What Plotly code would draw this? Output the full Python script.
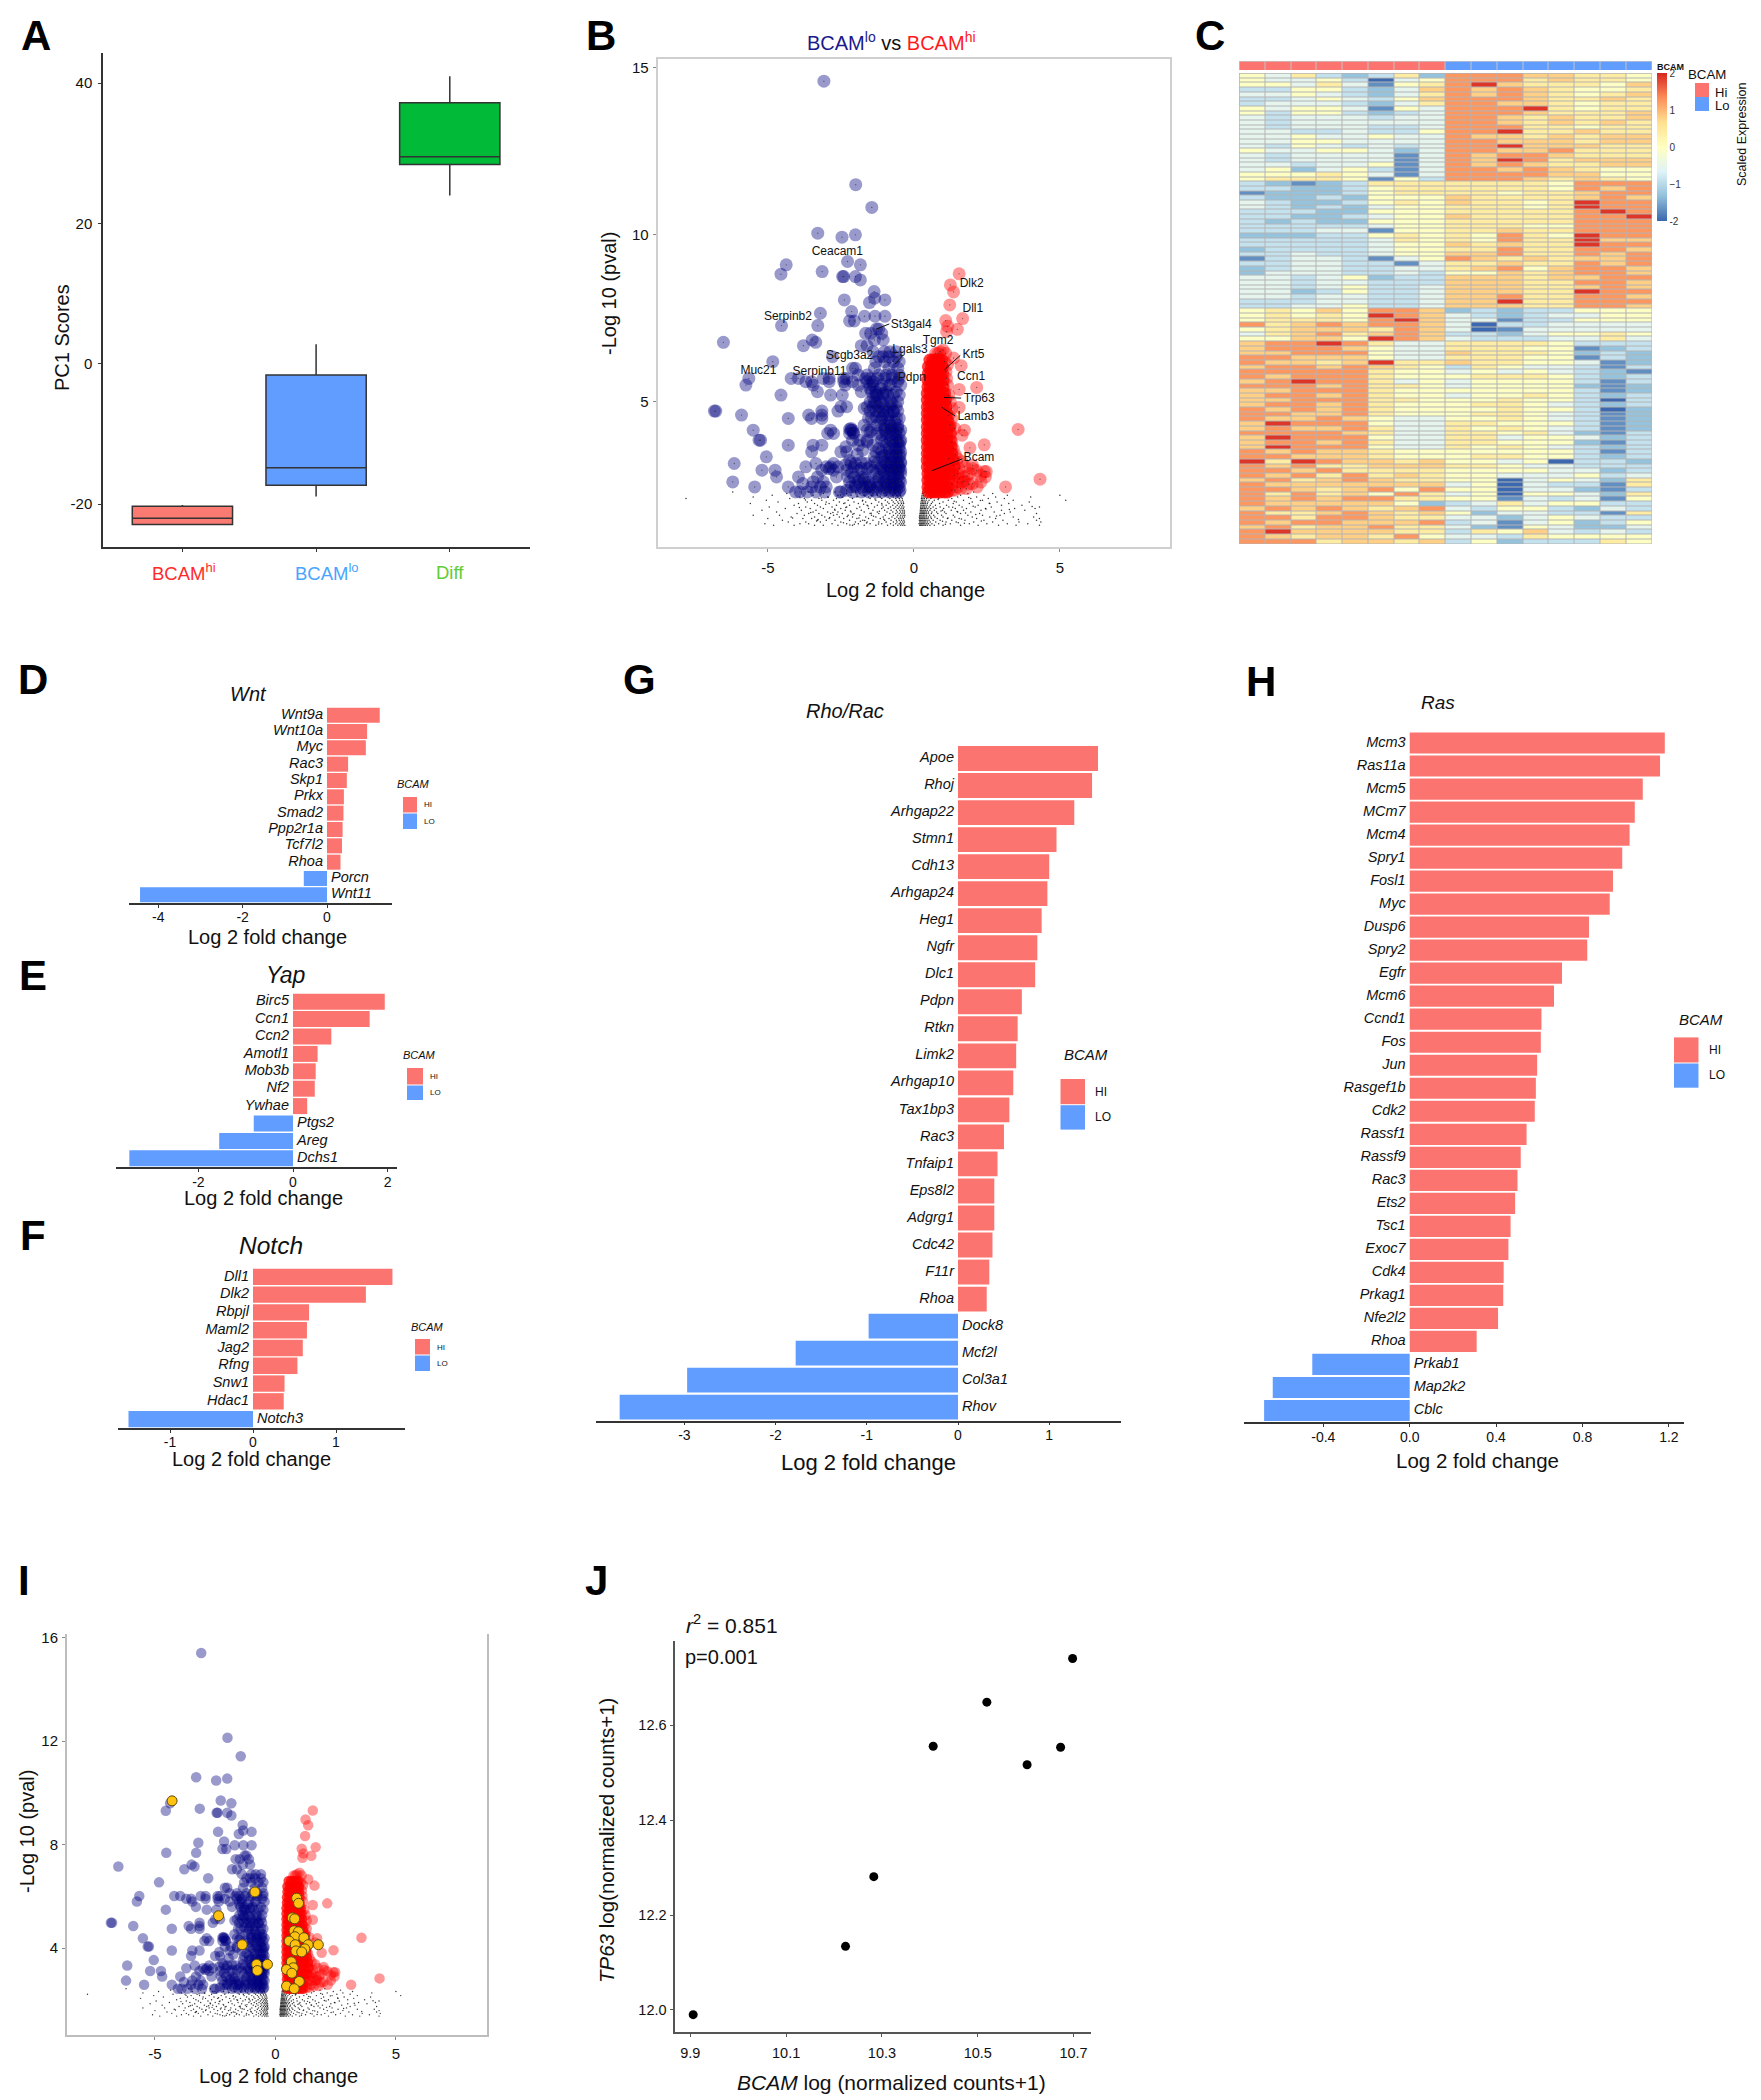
import plotly.graph_objects as go

W, H = 1761, 2100
FONT = "Liberation Sans"
SALMON, BLUE, NAVY = "#FB746F", "#619CFF", "#00007F"

# ---------- A: box plot ----------
box_names = ["BCAM hi", "BCAM lo", "Diff"]
box_q1 = [-22.9, -17.3, 28.4]
box_median = [-22.0, -14.8, 29.5]
box_q3 = [-20.3, -1.6, 37.2]
box_low = [-22.9, -18.9, 24.0]
box_high = [-20.1, 2.8, 41.0]
box_colors = ["#FB7A72", "#619CFF", "#00BA38"]

# ---------- B / I: volcano ----------
blue_levels = [14.6, 11.5, 10.82, 10.05, 10.0, 9.93, 9.2, 9.1, 8.9, 8.82, 8.75, 8.65, 8.3, 8.1, 8.05, 7.97, 7.7, 7.65, 7.56,
               7.42, 7.28, 7.18, 7.05, 6.85, 6.78, 6.68, 6.5, 6.35, 6.2, 6.0, 5.8, 5.7, 5.6, 5.5, 5.3, 5.2, 5.0, 4.85, 4.72,
               4.6, 4.5, 4.3, 4.15, 4.05, 3.85, 3.7, 3.5, 3.35, 3.15, 3.05, 2.95, 2.75, 2.6, 2.45, 2.3]
blue_rows = [
    [-3.08], [-1.99], [-1.44], [-3.29], [-2.0], [-2.46], [-2.27], [-4.37, -1.83], [-3.14], [-4.55],
    [-2.44, -2.4, -2.0], [-1.83], [-1.36], [-1.34], [-2.38, -0.99], [-1.52], [-2.13], [-3.2], [-1.33, -1.69, -0.99],
    [-2.2, -2.04], [-3.29, -4.53], [-1.28, -1.2], [-1.65, -1.48, -1.1], [-3.48, -1.35, -1.05], [-6.52, -3.36],
    [-3.78, -1.8, -1.6], [-1.4, -1.0, -0.82, -0.6], [-2.79, -1.2, -1.05, -0.85, -0.6],
    [-4.83, -1.3, -1.0, -0.7, -0.5], [-2.1, -2.0, -1.35, -0.85, -0.55], [-1.9, -1.6, -1.2, -0.95, -0.75, -0.5],
    [-5.65, -4.2, -3.95, -3.1, -2.9, -2.4, -2.3, -1.65, -1.5, -1.25, -1.0, -0.75, -0.5],
    [-3.7, -3.5, -2.9, -2.4, -2.1, -1.6, -1.4, -0.55], [-5.75, -3.45, -2.35, -1.9, -1.5, -0.85, -0.45],
    [-3.3, -1.8, -1.45, -1.3, -0.95, -0.6], [-4.55, -2.85, -2.45, -1.3, -0.9, -0.7, -0.5],
    [-1.5, -1.35, -1.15, -0.8, -0.55], [-2.5, -2.3, -1.6, -1.4, -1.2, -1.0, -0.8, -0.6],
    [-6.83, -6.78, -2.6, -3.15, -1.5, -1.3, -1.05, -0.7, -0.55], [-5.9, -3.6, -3.15, -1.05, -0.85],
    [-4.3, -3.5, -3.15, -1.45, -1.1, -0.9, -0.6, -0.5], [-1.7, -1.25, -1.0, -0.8, -0.55],
    [-5.5, -2.85, -2.15, -2.1, -1.6, -1.45, -1.0, -0.8, -0.6, -0.45],
    [-2.95, -2.75, -2.2, -2.05, -1.25, -0.95, -0.7, -0.5],
    [-5.3, -5.25, -2.1, -1.85, -1.6, -1.1, -0.8, -0.6, -0.45],
    [-4.3, -3.45, -3.15, -1.9, -1.4, -0.95, -0.7, -0.5],
    [-3.5, -2.5, -2.3, -1.3, -1.1, -0.85, -0.6, -0.45], [-5.05, -1.35, -1.1, -0.9, -0.7, -0.5],
    [-6.15, -3.35, -2.75, -2.15, -2.0, -1.65, -1.25, -0.95, -0.75, -0.55, -0.45],
    [-3.7, -3.0, -2.85, -2.6, -2.05, -1.5, -1.1, -0.85, -0.65, -0.5],
    [-5.2, -4.75, -3.15, -2.75, -2.3, -1.9, -1.4, -1.05, -0.8, -0.6, -0.45],
    [-4.7, -3.95, -3.3, -2.65, -2.05, -1.75, -1.2, -0.9, -0.7, -0.55],
    [-6.2, -2.2, -1.9, -1.55, -1.3, -1.0, -0.8, -0.6, -0.45],
    [-5.45, -4.3, -3.5, -3.2, -3.0, -2.15, -1.75, -1.5, -1.25, -0.95, -0.7, -0.5],
    [-4.05, -3.9, -3.65, -3.35, -3.05, -2.5, -2.1, -1.8, -1.55, -1.3, -1.1, -0.85, -0.65, -0.5],
]
blue_dense_levels = [2.35, 2.5, 2.65, 2.85, 3.0, 3.2, 3.4, 3.6, 3.8, 4.0, 4.2, 4.4, 4.7, 4.95, 5.2, 5.5]
blue_dense_rows = [
    [-1.7, -1.4, -1.0, -0.8, -0.6, -0.47], [-2.0, -1.5, -1.15, -0.9, -0.72, -0.55],
    [-1.7, -1.2, -0.95, -0.75, -0.5], [-1.3, -1.0, -0.78, -0.55, -0.45], [-1.8, -1.15, -0.9, -0.68, -0.5],
    [-1.35, -1.0, -0.8, -0.58, -0.45], [-1.0, -0.78, -0.6, -0.47], [-1.2, -0.85, -0.62, -0.5],
    [-1.0, -0.72, -0.55, -0.47], [-1.1, -0.82, -0.62], [-2.15, -1.0, -0.75, -0.55], [-1.15, -0.85, -0.65],
    [-1.2, -0.9, -0.7], [-1.3, -1.05, -0.75], [-1.25, -1.05], [-1.4, -1.1, -0.8],
]
blue_extra_x = [-2.2, -2.07, -2.33, -1.94, -2.2, -1.8, -2.33, -2.13, -1.87, -2.27, -1.6, -1.67, -2.0, -1.6, -2.3, -1.75, -1.6, -1.5,
                -1.55, -1.7, -2.9, -3.1, -2.55, -3.45, -3.8, -1.4, -1.5, -1.15, -1.3, -1.05]
blue_extra_y = [4.18, 4.07, 3.65, 3.42, 3.24, 3.18, 3.12, 2.88, 2.65, 2.76, 3.0, 2.7, 2.45, 2.45, 2.35, 3.55, 3.8, 4.1,
                4.5, 4.8, 3.0, 2.6, 2.3, 2.6, 2.55, 5.15, 5.4, 5.4, 4.55, 5.25]
blue_x = [x for r in blue_rows + blue_dense_rows for x in r] + blue_extra_x
blue_y = [y for y, r in zip(blue_levels + blue_dense_levels, blue_rows + blue_dense_rows) for _ in r] + blue_extra_y

red_sparse_x = [1.55, 1.25, 1.36, 1.23, 1.67, 1.09, 1.16, 1.49, 1.12, 0.83, 1.09, 1.36, 1.62, 2.15, 1.55, 1.55, 3.57, 1.73, 1.65,
                2.41, 1.92, 1.42, 2.15, 2.41, 2.48, 4.32, 3.14, 2.17, 1.82, 1.55, 1.88, 1.49, 1.75, 1.35, 1.5, 1.3, 1.4, 1.6,
                1.2, 1.3, 1.25, 1.15, 1.1, 1.05, 2.02, 2.3, 1.72,
                1.2, 1.35, 1.5, 1.65, 1.55, 1.7, 1.9, 2.0, 1.65, 2.0, 1.4, 1.3, 1.4, 1.25, 1.3, 1.2, 1.12, 1.15, 1.3, 1.8, 1.5,
                2.3, 2.45, 0.9, 0.75, 1.0]
red_sparse_y = [8.83, 8.5, 8.29, 7.9, 7.49, 7.43, 7.26, 7.17, 7.1, 6.45, 6.45, 6.31, 6.08, 5.43, 5.37, 4.83, 4.17, 4.15, 4.0,
                3.71, 3.62, 3.42, 2.94, 2.91, 2.91, 2.68, 2.45, 2.45, 2.77, 2.7, 2.53, 2.6, 3.06, 3.1, 2.85, 2.55, 2.35, 2.4,
                4.6, 4.5, 5.0, 5.5, 5.9, 6.2, 3.0, 2.8, 2.62,
                3.3, 3.6, 3.3, 3.2, 3.0, 2.75, 2.85, 3.1, 2.6, 2.55, 2.8, 3.8, 4.2, 4.3, 4.8, 5.2, 5.7, 6.1, 2.35, 2.4, 2.45,
                2.6, 2.75, 6.5, 6.45, 6.55]
red_levels = [6.25, 6.05, 5.85, 5.65, 5.45, 5.25, 5.05, 4.85, 4.65, 4.45, 4.25, 4.05, 3.85, 3.65, 3.45, 3.25, 3.05, 2.85, 2.65, 2.45, 2.3]
red_rows = [
    [0.55, 0.65, 0.75, 0.85, 0.95], [0.5, 0.6, 0.7, 0.8, 0.9, 0.98], [0.5, 0.58, 0.68, 0.78, 0.88, 0.98],
    [0.48, 0.58, 0.68, 0.78, 0.88, 1.0], [0.48, 0.56, 0.66, 0.76, 0.86, 1.0], [0.46, 0.56, 0.66, 0.76, 0.86, 0.98, 1.05],
    [0.46, 0.56, 0.66, 0.76, 0.88, 1.0, 1.08], [0.46, 0.54, 0.64, 0.76, 0.88, 1.0, 1.1], [0.46, 0.54, 0.64, 0.76, 0.88, 1.0, 1.12],
    [0.46, 0.54, 0.64, 0.76, 0.88, 1.0, 1.15], [0.46, 0.54, 0.64, 0.76, 0.88, 1.0, 1.15, 1.22], [0.46, 0.54, 0.64, 0.76, 0.88, 1.0, 1.12, 1.25],
    [0.46, 0.54, 0.64, 0.76, 0.88, 1.0, 1.12, 1.25], [0.46, 0.54, 0.64, 0.76, 0.9, 1.02, 1.15, 1.28], [0.46, 0.54, 0.64, 0.76, 0.9, 1.02, 1.15, 1.3],
    [0.46, 0.54, 0.64, 0.78, 0.9, 1.02, 1.18, 1.35], [0.46, 0.54, 0.64, 0.78, 0.9, 1.05, 1.2, 1.38], [0.48, 0.56, 0.66, 0.78, 0.92, 1.05, 1.2, 1.32],
    [0.48, 0.56, 0.66, 0.8, 0.92, 1.05, 1.2], [0.48, 0.56, 0.66, 0.8, 0.92, 1.05, 1.15], [0.5, 0.6, 0.7, 0.8, 0.92, 1.05, 1.15],
]
red_x = [x for r in red_rows for x in r]
red_y = [y for y, r in zip(red_levels, red_rows) for _ in r]

black_levels = [1.3, 1.35, 1.4, 1.45, 1.5, 1.55, 1.6, 1.65, 1.7, 1.75, 1.8, 1.85, 1.9, 1.95, 2.0, 2.05, 2.1, 2.15, 2.2, 2.25, 2.3]
black_rows = [
    [-4.8, -4.1, -3.4, -3.1, -2.6, -2.1, -1.7, -1.3, -0.9, -0.7, -0.55, -0.45, -0.38, -0.31, 0.2, 0.23, 0.27, 0.31, 0.35, 0.4, 0.46, 0.55, 0.7, 1.0, 1.6, 2.2, 2.9, 3.5, 4.3],
    [-5.1, -3.9, -3.6, -2.8, -2.3, -1.9, -1.5, -1.1, -0.8, -0.62, -0.5, -0.42, -0.35, 0.18, 0.22, 0.26, 0.3, 0.34, 0.38, 0.44, 0.5, 0.62, 0.85, 1.25, 1.9, 2.5, 3.2, 3.9],
    [-4.3, -3.7, -3.2, -2.5, -2.0, -1.6, -1.2, -0.95, -0.7, -0.58, -0.46, -0.38, -0.32, 0.2, 0.24, 0.28, 0.32, 0.36, 0.41, 0.47, 0.56, 0.75, 1.1, 1.45, 2.05, 2.7, 3.6, 4.35],
    [-4.5, -3.3, -3.0, -2.7, -2.2, -1.75, -1.4, -1.0, -0.78, -0.6, -0.5, -0.42, -0.34, 0.19, 0.23, 0.27, 0.31, 0.35, 0.39, 0.45, 0.52, 0.66, 0.9, 1.3, 1.75, 2.4, 3.05, 4.2],
    [-5.0, -3.8, -3.5, -2.9, -2.4, -1.95, -1.55, -1.15, -0.85, -0.65, -0.52, -0.44, -0.36, 0.2, 0.24, 0.28, 0.32, 0.37, 0.42, 0.48, 0.6, 0.8, 1.15, 1.55, 2.15, 2.8, 4.3],
    [-4.2, -3.4, -3.05, -2.55, -2.1, -1.65, -1.3, -1.05, -0.75, -0.58, -0.47, -0.39, -0.32, 0.19, 0.22, 0.26, 0.3, 0.34, 0.38, 0.43, 0.5, 0.58, 0.72, 1.0, 1.4, 2.0, 2.6, 3.4, 4.1],
    [-5.5, -4.6, -3.75, -3.15, -2.75, -2.25, -1.85, -1.45, -0.98, -0.7, -0.55, -0.45, -0.37, -0.31, 0.2, 0.24, 0.28, 0.33, 0.38, 0.44, 0.54, 0.68, 0.95, 1.35, 1.85, 2.35, 2.95],
    [-4.0, -3.6, -3.25, -2.85, -2.45, -2.05, -1.5, -1.2, -0.82, -0.62, -0.5, -0.41, -0.33, 0.21, 0.25, 0.29, 0.33, 0.37, 0.42, 0.49, 0.6, 0.82, 1.1, 1.6, 2.25, 3.1, 4.2],
    [-4.7, -3.45, -2.95, -2.6, -2.15, -1.7, -1.25, -0.92, -0.72, -0.57, -0.46, -0.38, -0.32, 0.22, 0.26, 0.3, 0.34, 0.38, 0.43, 0.5, 0.62, 0.78, 1.05, 1.5, 1.95, 2.75, 3.3],
    [-5.2, -3.85, -3.35, -2.7, -2.35, -1.8, -1.4, -1.0, -0.78, -0.6, -0.48, -0.4, -0.33, 0.22, 0.26, 0.31, 0.35, 0.4, 0.46, 0.55, 0.7, 0.98, 1.28, 1.7, 2.3, 3.0, 3.8],
    [-4.4, -3.55, -3.1, -2.5, -1.95, -1.55, -1.1, -0.88, -0.68, -0.54, -0.44, -0.36, 0.23, 0.27, 0.31, 0.36, 0.41, 0.48, 0.58, 0.76, 1.02, 1.42, 1.8, 2.45, 3.45, 4.15],
    [-4.95, -3.7, -3.2, -2.8, -2.3, -1.85, -1.35, -1.05, -0.8, -0.62, -0.5, -0.41, -0.34, 0.23, 0.28, 0.32, 0.37, 0.43, 0.52, 0.66, 0.9, 1.2, 1.65, 2.1, 2.65, 4.3],
    [-4.1, -3.3, -2.65, -2.2, -1.6, -1.25, -0.95, -0.72, -0.57, -0.46, -0.38, 0.24, 0.28, 0.33, 0.38, 0.45, 0.56, 0.74, 1.12, 1.55, 2.2, 3.0, 3.7],
    [-5.6, -3.95, -3.4, -2.9, -2.4, -1.9, -1.45, -1.1, -0.85, -0.65, -0.52, -0.42, -0.35, 0.24, 0.29, 0.34, 0.39, 0.46, 0.6, 0.88, 1.35, 1.9, 2.6, 3.25],
    [-4.65, -3.65, -3.0, -2.55, -2.05, -1.65, -1.2, -0.9, -0.7, -0.55, -0.44, -0.36, 0.25, 0.3, 0.35, 0.4, 0.48, 0.64, 1.0, 1.45, 2.0, 2.85, 3.95],
    [-5.05, -3.5, -3.15, -2.75, -2.25, -1.75, -1.3, -0.98, -0.75, -0.6, -0.48, -0.39, 0.26, 0.3, 0.35, 0.42, 0.52, 0.7, 1.18, 1.7, 2.35, 3.4, 5.2],
    [-7.8, -4.25, -3.75, -3.25, -2.65, -2.1, -1.5, -1.1, -0.82, -0.62, -0.5, -0.4, 0.26, 0.31, 0.36, 0.44, 0.58, 0.85, 1.3, 1.95, 2.55, 3.1],
    [-5.5, -3.9, -2.95, -2.45, -1.95, -1.55, -1.15, -0.88, -0.7, -0.55, -0.44, 0.27, 0.32, 0.38, 0.47, 0.62, 0.96, 1.5, 2.15, 2.8, 4.0],
    [-4.85, -3.45, -2.6, -2.15, -1.7, -1.25, -0.95, -0.72, -0.58, -0.46, 0.28, 0.33, 0.39, 0.5, 0.7, 1.08, 1.6, 2.4, 3.2, 5.0],
    [-4.35, -3.1, -2.3, -1.85, -1.4, -1.02, -0.8, -0.62, -0.5, 0.29, 0.34, 0.42, 0.54, 0.78, 1.25, 1.85, 2.7],
    [-6.2, -3.6, -2.7, -2.0, -1.5, -1.1, -0.85, -0.66, -0.52, 0.3, 0.36, 0.45, 0.6, 0.9, 1.4, 2.05],
]
black_extra_x = [-3.92, -3.28, -2.63, -2.41, -2.17, -1.83, -1.57, -1.38, -1.21, -3.02, -2.88, -2.36, -2.04, -1.76, -1.46, -1.09, -3.53,
                 -3.17, -2.71, -2.28, -1.92, -1.62, -1.33, -1.03, -4.15, -3.71, -2.51, -2.09, -1.68, -1.27, 0.93, 1.17, 1.38, 1.52,
                 1.77, 2.03, 2.31, 2.58, 2.83, 3.27, 0.83, 1.08, 1.33, 1.63, 1.88, 2.12, 2.47, 3.58, 4.05, 0.98, 1.23, 1.48, 1.73,
                 2.28, -2.93, -2.33, -1.88, -1.44, -3.33, -2.77, -2.19, -1.72, -1.18]
black_extra_y = [1.83, 1.47, 1.62, 1.38, 1.73, 1.42, 1.88, 1.57, 1.34, 1.93, 1.53, 1.97, 1.33, 2.03, 1.66, 1.91, 1.68, 2.12, 1.78, 1.56,
                 2.17, 1.37, 2.09, 1.48, 1.52, 2.06, 2.21, 1.63, 1.44, 2.24, 1.73, 1.52, 2.02, 1.38, 1.67, 1.87, 1.43, 1.96, 1.58,
                 1.77, 2.07, 1.33, 1.84, 1.49, 2.13, 1.62, 1.79, 1.47, 1.86, 1.42, 2.18, 1.71, 1.36, 2.04, 2.14, 1.83, 1.52, 2.19,
                 1.43, 1.68, 1.31, 1.93, 1.72]
black_x = [x for r in black_rows for x in r] + black_extra_x
black_y = [y for y, r in zip(black_levels, black_rows) for _ in r] + black_extra_y

gene_names = ["Ceacam1", "Serpinb2", "St3gal4", "Tgm2", "Lgals3", "Scgb3a2", "Krt5", "Muc21", "Serpinb11", "Pdpn", "Ccn1",
              "Trp63", "Lamb3", "Bcam", "Dlk2", "Dll1"]
gene_x = [-2.62, -4.31, -0.09, 0.83, -0.13, -2.2, 2.04, -5.32, -3.23, -0.07, 1.96, 2.24, 2.12, 2.23, 1.98, 2.02]
gene_y = [9.48, 7.55, 7.3, 6.82, 6.56, 6.37, 6.39, 5.93, 5.89, 5.7, 5.73, 5.09, 4.54, 3.31, 8.52, 7.78]
link_x = [-0.84, -1.28, None, 1.59, 1.05, None, 1.62, 1.03, None, 1.42, 0.96, None, 1.66, 0.63, None, -0.38, -0.64]
link_y = [7.33, 7.18, None, 6.39, 5.96, None, 5.11, 5.13, None, 4.57, 4.83, None, 3.29, 2.94, None, 6.39, 6.13]

gold_x = [-4.29, -0.85, -2.36, -1.38, -0.78, -0.75, -0.33, 0.88, 0.96, 0.7, 0.8, 0.77, 0.95, 0.81, 0.57, 1.18, 0.82, 1.36, 1.78,
          1.22, 0.85, 1.09, 0.66, 0.74, 0.46, 0.68, 0.99, 0.46, 0.78]
gold_y = [9.69, 6.17, 5.25, 4.13, 3.37, 3.13, 3.37, 5.93, 5.73, 5.17, 5.13, 4.67, 4.63, 4.44, 4.27, 4.4, 4.13, 4.13, 4.13,
          3.97, 3.89, 3.85, 3.47, 3.24, 3.17, 3.03, 2.71, 2.53, 2.43]
I_Y_SCALE = 1.055  # panel I shows the same genes on a slightly stretched p-value scale

# ---------- C: heat map (one digit per cell, see heat_levels) ----------
heat_levels = [-2.0, -1.7, -1.3, -0.9, -0.55, -0.05, 0.4, 0.8, 1.25, 1.9]
heat_rows = [
    "54632362 88877665", "54453045 88867665", "55464156 89766657", "33553247 87876556", "44543246 87876567",
    "33454357 88876676", "34443246 88776566", "54554154 88896566", "53553234 88876667", "43444344 88767667",
    "43444444 88767676", "43444334 88866566", "44334335 88966766", "44544544 87767677", "44554444 88777677",
    "43543434 88977766", "54455424 88778666", "43444414 87887666", "43444414 87986777", "44344514 87876677",
    "45245314 88787655", "55565414 88887755", "56665153 88876765",
    "32123666 66665888", "33223566 66665878", "12223566 66566788", "32232555 76666787", "43223565 76656988",
    "43232455 66656988", "33322555 66666898", "33223455 76666889", "32322555 66666888", "33333455 66655888",
    "33344155 66766888", "22233565 65865988", "33333465 65866977", "33333455 76766988", "23333455 66866887",
    "33433455 77866878", "13443145 87676778", "33443314 66766878", "23443344 67857887", "24443343 55767887",
    "44345233 77767788", "44344333 77766887", "44345334 77766787", "44235334 77766988", "44344334 77866887",
    "33344334 77966888", "33445334 77766887",
    "56575887 23233555", "56565987 43234455", "56665897 44133555", "86787887 40334444", "56777687 40144444",
    "46786787 33245565", "55775987 43334464",
    "78898644 66665333", "78887544 66655123", "77888544 76665232", "88777544 66655132", "87767966 76655412",
    "78878765 36544313", "88888655 45454321", "87888655 56665323", "78988645 45555313", "88878665 45555212",
    "77888655 55555312", "78878655 45565323", "77888665 55655303", "78878655 56654323", "87878655 55655302",
    "88778655 56654312", "87787544 55654312", "79888544 66555312", "78778644 65654312", "88887644 66564213",
    "79888544 66455423", "78878644 66555213", "79888544 65654323", "87877655 55555313", "88777655 56655323",
    "96987767 55450332", "87866777 66544333", "88786666 55554423", "87868676 55444534", "78678766 55045426",
    "87777777 45043316", "88767858 55044213", "86867586 45055426", "87878866 55143415", "87777752 34645533",
    "78787678 43553243", "86678767 52443316", "88688766 44245433", "87887778 34145235",
    "78677866 42154224", "89777766 36574343", "87677685 44365555", "88867767 35233365",
]
heat_z = [[heat_levels[int(c)] for c in row.replace(" ", "")] for row in heat_rows]
heat_groups = [0] * 8 + [1] * 8
heat_scale = ["#3B68AE", "#91BFDB", "#E0F3F8", "#FFFFBF", "#FEE090", "#FC8D59", "#D7261E"]

# ---------- D-H: bars ----------
wnt_genes = ["Wnt9a", "Wnt10a", "Myc", "Rac3", "Skp1", "Prkx", "Smad2", "Ppp2r1a", "Tcf7l2", "Rhoa", "Porcn", "Wnt11"]
wnt_vals = [1.25, 0.95, 0.92, 0.50, 0.47, 0.40, 0.39, 0.37, 0.355, 0.32, -0.55, -4.43]
yap_genes = ["Birc5", "Ccn1", "Ccn2", "Amotl1", "Mob3b", "Nf2", "Ywhae", "Ptgs2", "Areg", "Dchs1"]
yap_vals = [1.94, 1.62, 0.81, 0.52, 0.48, 0.46, 0.30, -0.83, -1.56, -3.46]
notch_genes = ["Dll1", "Dlk2", "Rbpjl", "Maml2", "Jag2", "Rfng", "Snw1", "Hdac1", "Notch3"]
notch_vals = [1.68, 1.36, 0.675, 0.65, 0.6, 0.535, 0.38, 0.37, -1.5]
rho_genes = ["Apoe", "Rhoj", "Arhgap22", "Stmn1", "Cdh13", "Arhgap24", "Heg1", "Ngfr", "Dlc1", "Pdpn", "Rtkn", "Limk2", "Arhgap10",
             "Tax1bp3", "Rac3", "Tnfaip1", "Eps8l2", "Adgrg1", "Cdc42", "F11r", "Rhoa", "Dock8", "Mcf2l", "Col3a1", "Rhov"]
rho_vals = [1.535, 1.47, 1.275, 1.08, 1.0, 0.98, 0.917, 0.87, 0.846, 0.70, 0.654, 0.638, 0.606, 0.563, 0.504, 0.433, 0.398, 0.398,
            0.378, 0.343, 0.315, -0.98, -1.78, -2.97, -3.71]
ras_genes = ["Mcm3", "Ras11a", "Mcm5", "MCm7", "Mcm4", "Spry1", "Fosl1", "Myc", "Dusp6", "Spry2", "Egfr", "Mcm6", "Ccnd1", "Fos", "Jun",
             "Rasgef1b", "Cdk2", "Rassf1", "Rassf9", "Rac3", "Ets2", "Tsc1", "Exoc7", "Cdk4", "Prkag1", "Nfe2l2", "Rhoa", "Prkab1",
             "Map2k2", "Cblc"]
ras_vals = [1.181, 1.159, 1.079, 1.042, 1.018, 0.984, 0.941, 0.926, 0.83, 0.822, 0.705, 0.668, 0.61, 0.607, 0.59, 0.584, 0.579, 0.541,
            0.514, 0.499, 0.488, 0.467, 0.457, 0.435, 0.433, 0.409, 0.31, -0.451, -0.634, -0.674]

# ---------- J: scatter ----------
bcam_counts = [9.906, 10.224, 10.283, 10.407, 10.519, 10.603, 10.673, 10.698]
tp63_counts = [11.99, 12.134, 12.281, 12.556, 12.649, 12.517, 12.554, 12.741]

# ---------- helpers ----------
fig = go.Figure()
layout = {}
annotations = []
shapes = []


def note(text, x, y, size, color="#111", angle=0, anchor="center"):
    annotations.append(dict(text=text, x=x / W, y=1 - y / H, xref="paper", yref="paper", showarrow=False, textangle=angle,
                            xanchor=anchor, yanchor="middle", font=dict(size=size, color=color, family=FONT)))


def axes(i, box, xr, yr, xa=None, ya=None, tick=14):
    base = dict(showgrid=False, zeroline=False, tickfont=dict(size=tick, color="#111", family=FONT))
    s = "" if i == 1 else str(i)
    layout[f"xaxis{s}"] = dict(domain=[box[0] / W, box[2] / W], range=xr, anchor=f"y{s}", **base, **(xa or {}))
    layout[f"yaxis{s}"] = dict(domain=[1 - box[3] / H, 1 - box[1] / H], range=yr, anchor=f"x{s}", **base, **(ya or {}))
    return (f"x{s}", f"y{s}")


def rect(x0, y0, x1, y1, color, layer="above", line=None):
    shapes.append(dict(type="rect", xref="paper", yref="paper", x0=x0 / W, x1=x1 / W, y0=1 - y0 / H, y1=1 - y1 / H,
                       fillcolor=color, line=dict(width=0 if line is None else 1, color=line or color), layer=layer))


def legend_box(tx, ty, x0, x1, y0, y1, y2, lx, size_title, size_label):
    note("<i>BCAM</i>", tx, ty, size_title)
    rect(x0, y0, x1, y1 - 0.5, SALMON)
    rect(x0, y1 + 0.5, x1, y2, BLUE)
    note("HI", lx, (y0 + y1) / 2, size_label, anchor="left")
    note("LO", lx, (y1 + y2) / 2, size_label, anchor="left")


def bars(i, genes, vals, left, top, right, bottom, zero, per_unit, ticks, ticktext, label_size, standoff):
    n = len(genes)
    xr = [(left - zero) / per_unit, (right - zero) / per_unit]
    ax = axes(i, (left, top, right, bottom), xr, [n - 0.5, -0.5],
              dict(showline=True, linecolor="#333", linewidth=1.5, ticks="outside", ticklen=3, tickcolor="#333", tickwidth=1,
                   tickvals=ticks, ticktext=ticktext, ticklabelstandoff=standoff),
              dict(visible=False))
    idx = list(range(n))
    fig.add_trace(go.Bar(x=vals, y=idx, orientation="h", width=0.92, xaxis=ax[0], yaxis=ax[1], showlegend=False,
                         marker=dict(color=[SALMON if v > 0 else BLUE for v in vals], line=dict(width=0))))
    pos = [k for k in idx if vals[k] > 0]
    neg = [k for k in idx if vals[k] <= 0]
    fig.add_trace(go.Scatter(x=[0] * len(pos), y=pos, text=[f"<i>{genes[k]}\u00a0</i>" for k in pos], mode="text", cliponaxis=False,
                             textposition="middle left", textfont=dict(size=label_size, color="#111", family=FONT),
                             xaxis=ax[0], yaxis=ax[1], showlegend=False))
    fig.add_trace(go.Scatter(x=[0] * len(neg), y=neg, text=[f"<i>\u00a0{genes[k]}</i>" for k in neg], mode="text", cliponaxis=False,
                             textposition="middle right", textfont=dict(size=label_size, color="#111", family=FONT),
                             xaxis=ax[0], yaxis=ax[1], showlegend=False))


def dots(ax, x, y, size, color, opacity=0.4):
    fig.add_trace(go.Scatter(x=x, y=y, mode="markers", xaxis=ax[0], yaxis=ax[1], showlegend=False,
                             marker=dict(size=size, color=color, opacity=opacity, line=dict(width=0))))


# ---------- A ----------
axA = axes(1, (103, 53, 530, 547), [-0.594, 2.6], [-26.1, 44.3],
           dict(showline=True, linecolor="#333", linewidth=1.5, ticks="outside", ticklen=3, tickcolor="#333",
                tickvals=[0, 1, 2], showticklabels=False),
           dict(showline=True, linecolor="#333", linewidth=1.5, ticks="outside", ticklen=3, tickcolor="#333",
                tickvals=[-20, 0, 20, 40], ticktext=["-20", "0", "20", "40"], ticklabelstandoff=3), tick=15)
for k in range(3):
    fig.add_trace(go.Box(x=[k], q1=[box_q1[k]], median=[box_median[k]], q3=[box_q3[k]], lowerfence=[box_low[k]],
                         upperfence=[box_high[k]], width=0.75, whiskerwidth=0, fillcolor=box_colors[k], name=box_names[k],
                         line=dict(color="#333", width=1.5), showlegend=False, xaxis=axA[0], yaxis=axA[1]))
note("PC1 Scores", 62, 338, 20, angle=-90)
note("BCAM<sup>hi</sup>", 184, 572, 18.5, "#FF2A2A")
note("BCAM<sup>lo</sup>", 327, 572, 18.5, "#49A4FF")
note("Diff", 450, 572, 18.5, "#62CC33")

# ---------- B ----------
frame = dict(showline=True, mirror=True, linecolor="#CFCFCF", linewidth=2, ticks="outside", ticklen=3, tickcolor="#888")
axB = axes(2, (657.7, 58.5, 1170, 547), [-8.77, 8.77], [0.65, 15.28],
           dict(tickvals=[-5, 0, 5], ticktext=["-5", "0", "5"], ticklabelstandoff=3, **frame),
           dict(tickvals=[5, 10, 15], ticklabelstandoff=1, **frame), tick=15)
dots(axB, black_x, black_y, 1.5, "#000", 0.8)
dots(axB, blue_x, blue_y, 13, NAVY)
dots(axB, red_sparse_x, red_sparse_y, 13, "#FF0000")
dots(axB, red_x, red_y, 13, "#FF0000", 0.75)
dots(axB, blue_x + red_sparse_x, blue_y + red_sparse_y, 1.3, "#222", 0.6)
fig.add_trace(go.Scatter(x=link_x, y=link_y, mode="lines", line=dict(color="#111", width=1), xaxis=axB[0], yaxis=axB[1], showlegend=False))
fig.add_trace(go.Scatter(x=gene_x, y=gene_y, text=gene_names, mode="text", textposition="middle center",
                         textfont=dict(size=12, color="#111", family=FONT), xaxis=axB[0], yaxis=axB[1], showlegend=False))
note('<span style="color:#1A1A8C">BCAM<sup>lo</sup></span> vs <span style="color:#FF1A1A">BCAM<sup>hi</sup></span>', 892, 41.5, 20)
note("Log 2 fold change", 906, 590, 20)
note("-Log 10 (pval)", 609, 294, 20, angle=-90)

# ---------- C ----------
rect(1239, 73, 1652, 544, "#B4B4B4", layer="below")
rect(1239, 61, 1652, 70, "#C4C4C4", layer="below")
axC = axes(3, (1239.5, 73.5, 1652, 544), [-0.5, 15.5], [len(heat_z) - 0.5, -0.5], dict(visible=False), dict(visible=False))
fig.add_trace(go.Heatmap(z=heat_z, xaxis=axC[0], yaxis=axC[1], xgap=1, ygap=1, zmin=-2, zmax=2, colorscale=heat_scale,
                         hoverinfo="skip",
                         colorbar=dict(x=1657 / W, xanchor="left", y=1 - 73 / H, yanchor="top", len=148 / H, lenmode="fraction",
                                       thickness=10, thicknessmode="pixels", tickvals=[-2, -1, 0, 1, 2], xpad=0, ypad=0,
                                       ticktext=["-2", "\u22121", "0", "1", "2"], ticks="", outlinewidth=0,
                                       tickfont=dict(size=10, color="#333", family=FONT))))
axC2 = axes(4, (1239.5, 61.5, 1652, 70), [-0.5, 15.5], [-0.5, 0.5], dict(visible=False), dict(visible=False))
fig.add_trace(go.Heatmap(z=[heat_groups], xaxis=axC2[0], yaxis=axC2[1], xgap=1, showscale=False, zmin=0, zmax=1, hoverinfo="skip",
                         colorscale=[[0, SALMON], [0.5, SALMON], [0.5, BLUE], [1, BLUE]]))
note("<b>BCAM</b>", 1670, 67, 9)
note("BCAM", 1707, 74, 13.3)
rect(1695, 83, 1709, 97, SALMON)
rect(1695, 97, 1709, 111, BLUE)
note("Hi", 1713, 92, 13, anchor="left")
note("Lo", 1713, 106, 13, anchor="left")
note("Scaled Expression", 1742, 134, 12.5, angle=-90)

# ---------- D-H ----------
bars(5, wnt_genes, wnt_vals, 129, 707, 392, 903, 327, 42.2, [-4, -2, 0], ["-4", "-2", "0"], 14.5, -3)
note("<i>Wnt</i>", 248, 694, 20)
note("Log 2 fold change", 267, 937, 20)
legend_box(413, 784, 403, 417, 797, 813, 829, 422, 11, 8)

bars(6, yap_genes, yap_vals, 116, 993, 397, 1167, 293, 47.3, [-2, 0, 2], ["-2", "0", "2"], 14.5, -2)
note("<i>Yap</i>", 285, 975, 23)
note("Log 2 fold change", 263, 1198, 20)
legend_box(419, 1055, 407, 423, 1068, 1085, 1100, 428, 11, 8)

bars(7, notch_genes, notch_vals, 118, 1268, 405, 1428, 253, 83, [-1, 0, 1], ["-1", "0", "1"], 14.5, -3)
note("<i>Notch</i>", 271, 1245, 24.5)
note("Log 2 fold change", 251, 1459, 20)
legend_box(427, 1327, 415, 430, 1339, 1355, 1371, 435, 11, 8)

bars(8, rho_genes, rho_vals, 596, 745, 1121, 1420.7, 958, 91.2, [-3, -2, -1, 0, 1], ["-3", "-2", "-1", "0", "1"], 14.5, -2)
note("<i>Rho/Rac</i>", 845, 711, 20)
note("Log 2 fold change", 868, 1462, 22)
legend_box(1086, 1054, 1060.5, 1085, 1079, 1104.7, 1129.6, 1093, 15, 12)

bars(9, ras_genes, ras_vals, 1244, 731.5, 1684, 1422, 1409.7, 216, [-0.4, 0, 0.4, 0.8, 1.2], ["-0.4", "0.0", "0.4", "0.8", "1.2"], 14.5, -2)
note("<i>Ras</i>", 1438, 702, 19)
note("Log 2 fold change", 1477, 1460, 20.5)
legend_box(1701, 1019, 1674, 1698.5, 1037.4, 1063, 1087.7, 1707, 15, 12)

# ---------- I ----------
frameI = dict(showline=True, linecolor="#BDBDBD", linewidth=2, ticks="outside", ticklen=3, tickcolor="#888")
axI = axes(10, (67, 1634, 487, 2035), [-8.65, 8.78], [0.64, 16.14],
           dict(tickvals=[-5, 0, 5], ticktext=["-5", "0", "5"], ticklabelstandoff=1, **frameI),
           dict(tickvals=[4, 8, 12, 16], ticklabelstandoff=1, mirror=True, **frameI), tick=15)
dots(axI, black_x, [v * I_Y_SCALE for v in black_y], 1.4, "#000", 0.8)
dots(axI, blue_x, [v * I_Y_SCALE for v in blue_y], 10.5, NAVY)
dots(axI, red_sparse_x, [v * I_Y_SCALE for v in red_sparse_y], 10.5, "#FF0000")
dots(axI, red_x, [v * I_Y_SCALE for v in red_y], 10.5, "#FF0000", 0.75)
fig.add_trace(go.Scatter(x=gold_x, y=gold_y, mode="markers", xaxis=axI[0], yaxis=axI[1], showlegend=False,
                         marker=dict(size=10, color="#FFC20E", line=dict(width=1, color="#5A4A10"))))
note("Log 2 fold change", 278, 2076, 20)
note("-Log 10 (pval)", 27, 1832, 20, angle=-90)

# ---------- J ----------
axisJ = dict(showline=True, linecolor="#555", linewidth=2, ticks="outside", ticklen=3, tickcolor="#555")
axJ = axes(11, (674.5, 1641, 1090.8, 2031.7), [9.867, 10.736], [11.954, 12.778],
           dict(tickvals=[9.9, 10.1, 10.3, 10.5, 10.7], ticklabelstandoff=4, **axisJ),
           dict(tickvals=[12.0, 12.2, 12.4, 12.6], tickformat=".1f", ticklabelstandoff=0, **axisJ), tick=14.5)
dots(axJ, bcam_counts, tp63_counts, 9, "#000", 1)
note("<i>r</i><sup>2</sup> = 0.851", 684, 1624, 21, anchor="left")
note("p=0.001", 683, 1657, 20, anchor="left")
note("<i>BCAM</i> log (normalized counts+1)", 892, 2082, 21)
note("<i>TP63</i> log(normalized counts+1)", 606, 1841, 20.5, angle=-90)

# ---------- panel letters ----------
panel_letters = ["A", "B", "C", "D", "E", "F", "G", "H", "I", "J"]
letter_px = [36, 601, 1210, 33, 33, 33, 639, 1261, 24, 596]
letter_py = [36, 36, 36, 680, 975, 1235, 680, 681, 1580, 1580]
for t, lx, ly in zip(panel_letters, letter_px, letter_py):
    note(f"<b>{t}</b>", lx, ly, 42, "#000")

fig.update_layout(width=W, height=H, autosize=False, margin=dict(l=0, r=0, t=0, b=0, autoexpand=False), paper_bgcolor="white",
                  plot_bgcolor="rgba(0,0,0,0)", barmode="overlay", showlegend=False, annotations=annotations, shapes=shapes,
                  font=dict(family=FONT, color="#111"), **layout)
fig.write_html("out.html", post_script="document.body.style.margin='0';", config=dict(displayModeBar=False))
